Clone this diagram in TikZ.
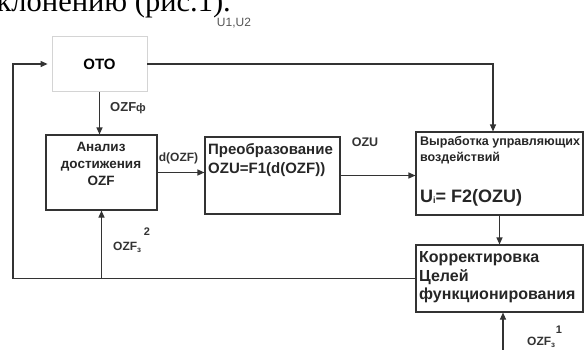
\documentclass[tikz,border=0pt]{standalone}
\usepackage{fontspec}
\setmainfont{Liberation Sans}
\newfontfamily\serifcap{Liberation Serif}
\usetikzlibrary{arrows.meta,positioning,calc}
\definecolor{ln}{HTML}{333333}
\definecolor{lgray}{HTML}{D4D4D4}
\definecolor{tgray}{HTML}{555555}

\begin{document}
\begin{tikzpicture}[x=1pt,y=-1pt,>={Triangle[length=7pt,width=6pt]},
 blk/.style={draw=ln,line width=1.1pt,inner sep=0pt},
 con/.style={->,draw=ln,line width=1.1pt},
 lbl/.style={font=\fontsize{12}{14}\selectfont\bfseries,text=ln,inner sep=0pt},
 bt/.style={inner sep=0pt,align=left,anchor=north west,text=black!85}]
\clip (0,0) rectangle (584,349);
% line of the surrounding text
\node[anchor=base east,inner sep=0pt,font=\serifcap\fontsize{30.5}{31}\selectfont] (cap) at (231,11) {клонению (рис.1).};
% blocks
\node[blk,draw=lgray,line width=0.8pt,minimum width=95,minimum height=55,font=\fontsize{15}{18}\selectfont\bfseries] (oto) at (99.5,64) {OTO};
\node[blk,minimum width=111,minimum height=75] (anal) at (101.5,172.5) {};
\node[blk,minimum width=135,minimum height=77] (pre) at (272.5,175.5) {};
\node[blk,minimum width=167,minimum height=83] (vyr) at (499.5,173.5) {};
\node[blk,minimum width=167,minimum height=67] (korr) at (499.5,278.5) {};
% block texts
\node[bt,align=center,anchor=north,font=\fontsize{13.5}{17}\selectfont\bfseries] (analt) at (101,142.5) {Анализ\\достижения\\OZF};
\node[bt,font=\fontsize{15}{19}\selectfont\bfseries] (pret) at (208,143.5) {Преобразование\\OZU=F1(d(OZF))};
\node[bt,font=\fontsize{12.5}{16}\selectfont\bfseries] (vyrt) at (420,136.5) {Выработка управляющих\\воздействий};
\node[bt,font=\fontsize{18}{22}\selectfont\bfseries] (vyrf) at (420,189) {U{\fontsize{9}{10}\selectfont\raisebox{-1pt}{i}}= F2(OZU)};
\node[bt,font=\fontsize{16}{18.5}\selectfont\bfseries] (korrt) at (419,251.5) {Корректировка\\Целей\\функционирования};
% labels
\node[inner sep=0pt,text=tgray,font=\fontsize{12}{14}\selectfont] (u12) at (234,23) {U1,U2};
\node[lbl,anchor=west,font=\fontsize{13}{15}\selectfont\bfseries] (ozff) at (110,108) {OZF{\fontsize{11}{13}\selectfont ф}};
\node[lbl] (dozf) at (178.5,158) {d(OZF)};
\node[lbl,font=\fontsize{12.5}{14}\selectfont\bfseries] (ozu) at (365,142) {OZU};
\node[lbl,font=\fontsize{11}{13}\selectfont\bfseries] (n2) at (147,232) {2};
\node[lbl,anchor=west] (ozf2) at (113,247) {OZF\textsubscript{з}};
\node[lbl,font=\fontsize{11}{13}\selectfont\bfseries] (n1) at (559,330) {1};
\node[lbl,anchor=west] (ozf1) at (527,342) {OZF\textsubscript{з}};
% connectors
\coordinate (lc) at (13,0);
\coordinate (in1) at (503,352);
\draw[con] (oto.east) -| ([xshift=-6.5pt]vyr.north);
\draw[con] (oto.south) -- (oto.south |- anal.north);
\draw[con] (anal.east) -- (anal.east -| pre.west);
\draw[con] (pre.east) -- (pre.east -| vyr.west);
\draw[con] (vyr.south) -- (korr.north);
\draw[con,shorten >=4pt] (korr.west) -- (korr.west -| lc) |- (oto.west);
\draw[con] (anal.south |- korr.west) -- (anal.south);
\draw[con] (in1) -- (in1 |- korr.south);
\end{tikzpicture}
\end{document}
